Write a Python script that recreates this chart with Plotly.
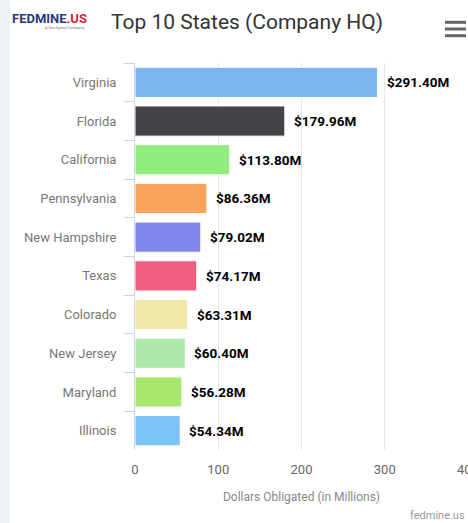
import plotly.graph_objects as go

states = ["Virginia", "Florida", "California", "Pennsylvania", "New Hampshire",
          "Texas", "Colorado", "New Jersey", "Maryland", "Illinois"]
values = [291.40, 179.96, 113.80, 86.36, 79.02, 74.17, 63.31, 60.40, 56.28, 54.34]
colors = ["#7cb5ec", "#434348", "#90ed7d", "#f7a35c", "#8085e9",
          "#f15c80", "#f1e7a8", "#aee8a8", "#a9e66e", "#79c3f7"]
x_ticks = [0, 100, 200, 300, 400]

W, H = 468, 523
ML, MR, MT, MB = 135, 0, 63, 73
PW, PH = W - ML - MR, H - MT - MB


def px(x):
    return (x - ML) / PW


def py(y):
    return (H - MB - y) / PH


fig = go.Figure()
fig.add_trace(go.Bar(
    x=values, y=states, orientation="h",
    marker=dict(color=colors, line=dict(color="#ffffff", width=1)),
    width=0.78, hoverinfo="x+y", showlegend=False,
))

annotations = []
for s, v in zip(states, values):
    annotations.append(dict(
        x=v, y=s, xref="x", yref="y", text=f"${v:.2f}M", showarrow=False,
        xanchor="left", yanchor="middle", xshift=7,
        font=dict(family="Roboto", size=13.5, color="#000000", weight="bold"),
    ))

# logo
annotations.append(dict(
    x=px(10), y=py(18), xref="paper", yref="paper", showarrow=False,
    xanchor="left", yanchor="middle",
    text="<b><span style='color:#1f3d7a'>FEDMINE</span><span style='color:#d7262e'>.US</span></b>",
    font=dict(family="Roboto", size=13),
))
annotations.append(dict(
    x=px(43), y=py(27), xref="paper", yref="paper", showarrow=False,
    xanchor="left", yanchor="middle", text="A GovSpend Company",
    font=dict(family="Roboto", size=4, color="#777777"),
))
# credits
annotations.append(dict(
    x=px(467), y=py(515), xref="paper", yref="paper", showarrow=False,
    xanchor="right", yanchor="middle", text="fedmine.us",
    font=dict(family="Roboto", size=11, color="#999999"),
))

shapes = [
    dict(type="rect", xref="paper", yref="paper", x0=px(0), x1=px(10),
         y0=py(H + 5), y1=py(-5), fillcolor="#eef2f6", line=dict(width=0),
         layer="below"),
]
for yy in [22.3, 29, 35.7]:
    shapes.append(dict(type="line", xref="paper", yref="paper",
                       x0=px(445), x1=px(466), y0=py(yy), y1=py(yy),
                       line=dict(color="#666666", width=3)))

fig.update_layout(
    width=W, height=H,
    margin=dict(l=ML, r=MR, t=MT, b=MB, pad=0, autoexpand=False),
    paper_bgcolor="#ffffff", plot_bgcolor="#ffffff",
    font=dict(family="Roboto", color="#666666"),
    title=dict(text="Top 10 States (Company HQ)", xref="container", yref="container",
               x=247 / W, y=1 - 22 / H, xanchor="center", yanchor="middle",
               font=dict(family="Roboto", size=21, color="#333333")),
    xaxis=dict(range=[0, 400], tickvals=x_ticks, showgrid=True, gridcolor="#e6e6e6",
               gridwidth=1, zeroline=False, showline=False, ticks="",
               tickfont=dict(size=13, color="#666666"), ticklabelstandoff=10,
               ticklabeloverflow="allow", automargin=False,
               title=dict(text="Dollars Obligated (in Millions)", standoff=16,
                          font=dict(size=12, color="#888888")),
               fixedrange=True),
    yaxis=dict(autorange="reversed", showline=True, linecolor="#ccd6eb", linewidth=1,
               ticks="outside", tickson="boundaries", ticklen=10, tickcolor="#ccd6eb",
               tickfont=dict(size=13, color="#777777"), ticklabelstandoff=15,
               showgrid=False, fixedrange=True, automargin=False),
    annotations=annotations,
    shapes=shapes,
    bargap=0.22,
)

fig.write_html(
    "out.html",
    config={"displayModeBar": False},
    post_script="document.body.style.margin='0';document.body.style.overflow='hidden';",
)
